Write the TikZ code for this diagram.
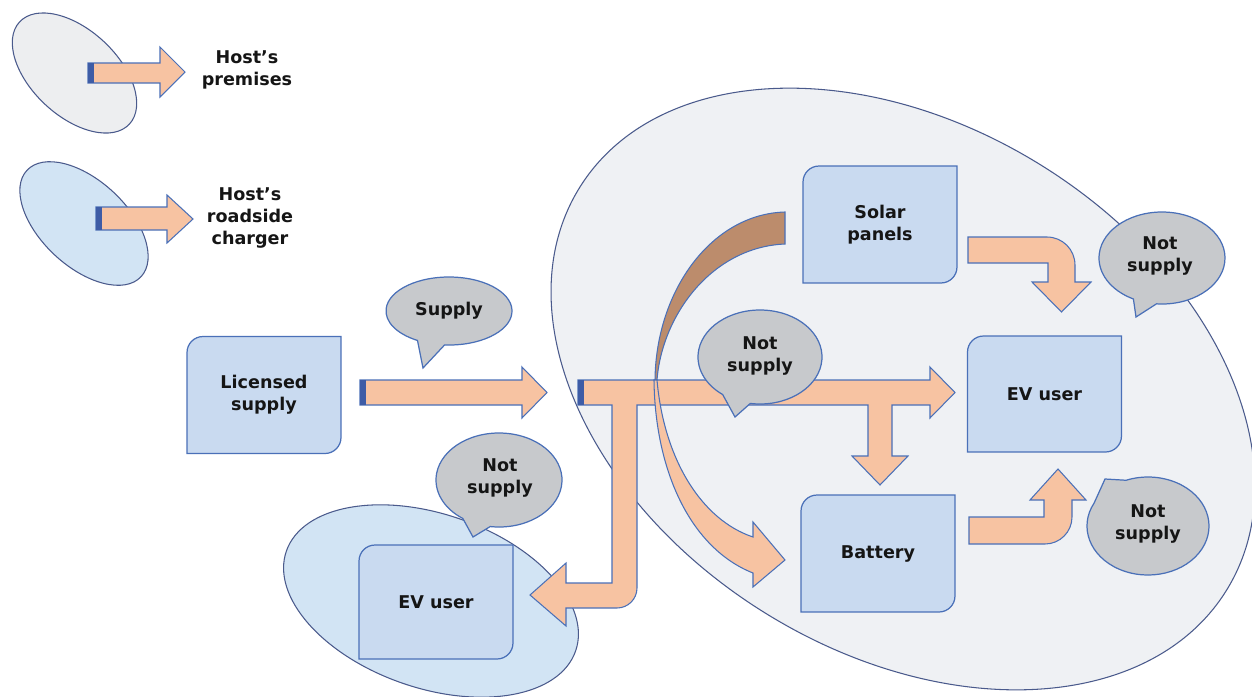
\documentclass[tikz,border=0pt]{standalone}
\usepackage{fontspec}
\setmainfont{DejaVu Sans}
\pgfdeclarelayer{back}
\pgfdeclarelayer{mid}
\pgfdeclarelayer{shapes}
\pgfsetlayers{back,mid,shapes,main}
\definecolor{bigfill}{HTML}{EFF1F4}
\definecolor{edgecol}{HTML}{4A5A8C}
\definecolor{boxfill}{HTML}{C9DAF0}
\definecolor{boxedge}{HTML}{4A70B8}
\definecolor{bluefill}{HTML}{D2E4F4}
\definecolor{greyfill}{HTML}{EDEEF0}
\definecolor{bubfill}{HTML}{C7C9CC}
\definecolor{peach}{HTML}{F7C3A2}
\definecolor{brownish}{HTML}{BC8C6C}
\definecolor{stripecol}{HTML}{3E5CA6}
\definecolor{txt}{HTML}{151515}
\newcommand\evboxline[1]{\draw[boxshape] (#1.south west) -- ([yshift=-0.32cm]#1.north west) arc[start angle=180,end angle=90,radius=0.32cm] -- (#1.north east) -- ([yshift=0.32cm]#1.south east) arc[start angle=0,end angle=-90,radius=0.32cm] -- cycle;}
\newcommand\bubpath[8]{\draw[bubshape] (#1,#2) ++(#5:#3 and #4) arc[start angle=#5,end angle=#6,x radius=#3,y radius=#4] -- (#7,#8) -- cycle;}
\begin{document}
\begin{tikzpicture}[x=0.02cm,y=0.02cm,
  lbl/.style={font=\fontsize{10}{12.5}\selectfont\bfseries, align=center, text=txt},
  boxnode/.style={lbl, inner sep=0pt, outer sep=0pt, minimum width=3.08cm, minimum height=2.34cm},
  boxshape/.style={fill=boxfill, draw=boxedge, line width=0.7pt},
  bubshape/.style={fill=bubfill, draw=boxedge, line width=0.7pt},
  arrowshape/.style={fill=peach, draw=boxedge, line width=0.6pt, line join=miter},
  ellshape/.style={draw=edgecol, line width=0.6pt},
  stripe/.style={fill=stripecol}]
\useasboundingbox (0,0) rectangle (1252,-697);
\begin{pgfonlayer}{back}
\fill[white] (0,0) rectangle (1252,-697);
\draw[ellshape, fill=greyfill, rotate around={-43:(74.5,-73)}] (74.5,-73) ellipse [x radius=75, y radius=43];
\draw[ellshape, fill=bluefill, rotate around={-43:(84,-223.5)}] (84,-223.5) ellipse [x radius=78, y radius=43];
\draw[ellshape, fill=bigfill, rotate around={-32:(903,-389)}] (903,-389) ellipse [x radius=381, y radius=263];
\draw[ellshape, fill=bluefill, rotate around={-19:(431,-601)}] (431,-601) ellipse [x radius=153, y radius=87];
\end{pgfonlayer}

% nodes
\node[lbl] (leg1) at (247,-70) {Host’s\\premises};
\node[lbl] (leg2) at (250,-218) {Host’s\\roadside\\charger};
\node[boxnode] (lic) at (264,-395) {Licensed\\supply};
\node[boxnode] (solar) at (880,-224.5) {Solar\\panels};
\node[boxnode, minimum height=2.32cm] (evr) at (1044.5,-394) {EV user};
\node[boxnode] (bat) at (878,-553.5) {Battery};
\node[boxnode, minimum height=2.28cm] (evl) at (436,-602) {EV user};
\node[lbl] (bsup) at (449,-311) {Supply};
\node[lbl] (bmid) at (760,-356) {Not\\supply};
\node[lbl] (bleft) at (500,-478) {Not\\supply};
\node[lbl] (btr) at (1160,-256) {Not\\supply};
\node[lbl] (bbr) at (1148,-524) {Not\\supply};

\begin{pgfonlayer}{mid}
% legend arrows
\draw[arrowshape] (88,-63) -- (160,-63) -- (160,-47) -- (185,-72) -- (160,-97) -- (160,-83) -- (88,-83) -- cycle;
\fill[stripe] (88,-63) rectangle (94,-83);
\draw[arrowshape] (96,-207) -- (167,-207) -- (167,-195) -- (193,-219) -- (167,-243) -- (167,-230) -- (96,-230) -- cycle;
\fill[stripe] (96,-207) rectangle (102,-230);
% licensed supply arrow
\draw[arrowshape] (360,-380) -- (522,-380) -- (522,-367) -- (547,-392.5) -- (522,-418) -- (522,-405) -- (360,-405) -- cycle;
\fill[stripe] (360,-380) rectangle (366,-405);
% T arrow
\draw[arrowshape] (578,-380) -- (930,-380) -- (930,-367) -- (955,-392.5) -- (930,-418) -- (930,-405) -- (892,-405) -- (892,-456) -- (908,-456) -- (880,-485) -- (852,-456) -- (868,-456) -- (868,-405) -- (637,-405) -- (637,-588) arc[start angle=0,end angle=-90,radius=20] -- (566,-608) -- (566,-626) -- (530,-595) -- (566,-563) -- (566,-583) -- (612,-583) -- (612,-405) -- (578,-405) -- cycle;
\fill[stripe] (578,-380) rectangle (584,-405);
% curved arrow solar -> battery
\draw[arrowshape, fill=brownish] (785,-212) .. controls (712,-214) and (656,-290) .. (655,-380) -- (657,-380) .. controls (662,-315) and (712,-247) .. (785,-244) -- cycle;
\draw[arrowshape] (654,-380) .. controls (655,-470) and (690,-548) .. (753,-573) -- (753,-587) -- (785,-560) -- (753,-522) -- (753,-537) .. controls (702,-520) and (664,-460) .. (657,-380) -- cycle;
% solar -> EV user
\draw[arrowshape] (968,-237) -- (1047,-237) arc[start angle=90,end angle=0,radius=28] -- (1075,-282) -- (1091,-282) -- (1061.5,-312) -- (1032,-282) -- (1048,-282) -- (1048,-263) -- (968,-263) -- cycle;
% battery -> EV user
\draw[arrowshape] (969,-517) -- (1044,-517) -- (1044,-500) -- (1030,-500) -- (1058,-469) -- (1086,-500) -- (1072,-500) -- (1072,-517) arc[start angle=0,end angle=-90,radius=27] -- (969,-544) -- cycle;
\end{pgfonlayer}

\begin{pgfonlayer}{shapes}
\evboxline{lic}
\evboxline{solar}
\evboxline{evr}
\evboxline{bat}
\evboxline{evl}
\bubpath{449}{-311}{63}{34}{266}{600}{423}{-368}
\bubpath{760}{-357}{62}{47}{261}{593}{735}{-417}
\bubpath{499}{-480}{63}{47}{262}{595}{473}{-537}
\bubpath{1162}{-258}{63}{46}{265}{603}{1136}{-317}
\bubpath{1148}{-526}{61}{49}{152}{471}{1105}{-479}
\end{pgfonlayer}
\end{tikzpicture}
\end{document}
